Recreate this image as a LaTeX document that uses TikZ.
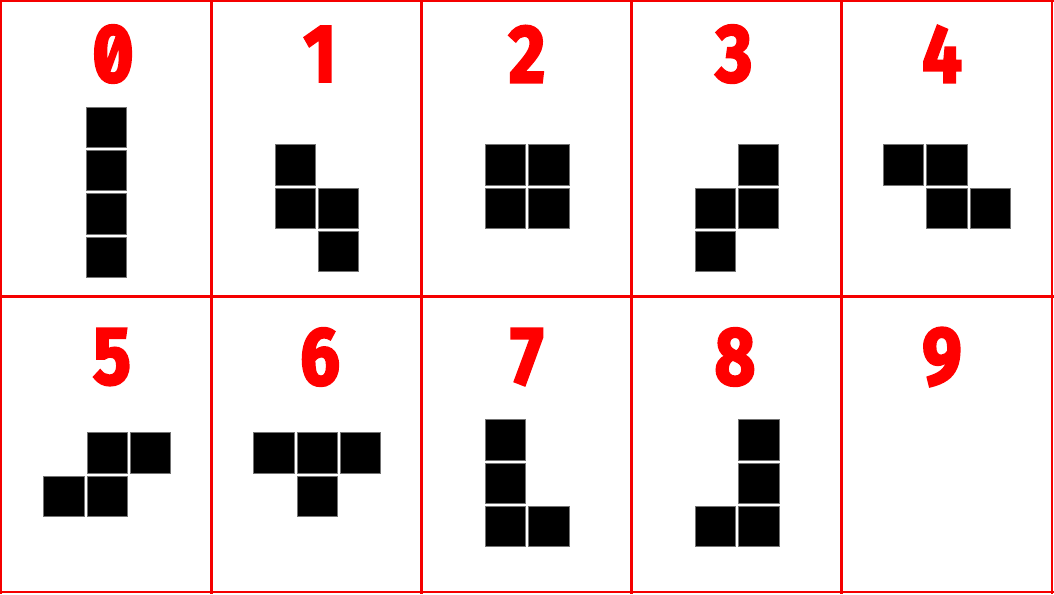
\documentclass[tikz,border=0pt]{standalone}
\usepackage{fontspec}
\newfontfamily\digitfont{Fira Sans}[RawFeature=+zero, FakeBold=3]
\begin{document}
\begin{tikzpicture}[x=1pt,y=-1pt,
  cellline/.style={draw={rgb,255:red,245;green,0;blue,0}, line width=2.3pt},
  blk/.style={fill=black, draw=black!55, line width=0.7pt},
  digit/.style={text=red, inner sep=0pt, font=\digitfont\bfseries\fontsize{82}{82}\selectfont}]
\useasboundingbox (0,0) rectangle (1054,594);
\fill[white] (0,0) rectangle (1054,594);
% grid
\foreach \x in {1.2,211.5,421.5,631.5,841.5,1052.3}
  \draw[cellline] (\x,0) -- (\x,594);
\foreach \y in {1.2,296.5,592.3}
  \draw[cellline] (0,\y) -- (1054,\y);
% digits
\foreach \d/\cx/\cy in {0/113/54, 1/320/54, 2/527/54, 3/734/54, 4/942/54,
                        5/112/357, 6/320/357, 7/527/357, 8/735/357, 9/942/357}
  \node[digit] (d\d) at (\cx,\cy) {\scalebox{0.86}[1]{\d}};
% tetromino squares: origin x/origin y/column/row
\foreach \ox/\oy/\i/\j in {
   86/106.7/0/0, 86/106.7/0/1, 86/106.7/0/2, 86/106.7/0/3,
   274.7/144.3/0/0, 274.7/144.3/0/1, 274.7/144.3/1/1, 274.7/144.3/1/2,
   485/144.3/0/0, 485/144.3/1/0, 485/144.3/0/1, 485/144.3/1/1,
   694.7/144.3/1/0, 694.7/144.3/0/1, 694.7/144.3/1/1, 694.7/144.3/0/2,
   883/144.3/0/0, 883/144.3/1/0, 883/144.3/1/1, 883/144.3/2/1,
   43.3/432.3/1/0, 43.3/432.3/2/0, 43.3/432.3/0/1, 43.3/432.3/1/1,
   253.3/432.3/0/0, 253.3/432.3/1/0, 253.3/432.3/2/0, 253.3/432.3/1/1,
   485/419.3/0/0, 485/419.3/0/1, 485/419.3/0/2, 485/419.3/1/2,
   695/419.3/1/0, 695/419.3/1/1, 695/419.3/1/2, 695/419.3/0/2}
  \draw[blk] ({\ox+\i*43.33+0.35},{\oy+\j*43.33+0.35}) rectangle ++(40.3,40.3);
\end{tikzpicture}
\end{document}
